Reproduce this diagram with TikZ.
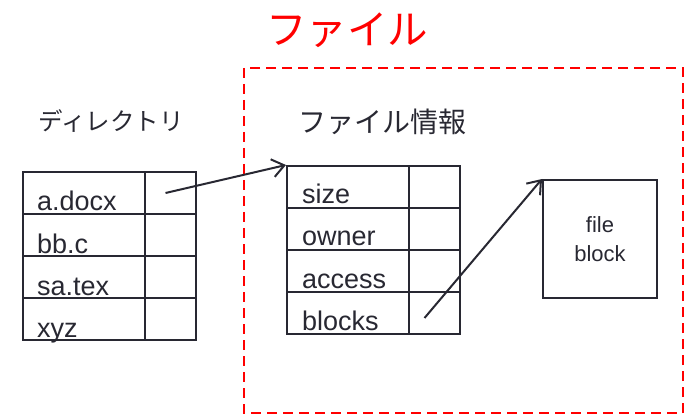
\documentclass[tikz,border=0pt]{standalone}
\usepackage{fontspec}
\setmainfont{Liberation Sans}
\newfontfamily\jpfont{Noto Sans CJK JP}
\usetikzlibrary{arrows.meta}

\definecolor{linegray}{RGB}{40,40,50}

\tikzset{
  cell/.style={draw=linegray, line width=2pt, minimum width=122pt, minimum height=42pt, inner sep=0pt, anchor=north west},
  ptr/.style={cell, minimum width=51pt},
  celltext/.style={font=\fontsize{27}{27}\selectfont, text=linegray, anchor=base west, inner sep=0pt},
  heading/.style={font=\jpfont\fontsize{#1}{#1}\selectfont, text=linegray, inner sep=0pt},
  title/.style={font=\jpfont\fontsize{40.5}{40.5}\selectfont, text=red, inner sep=0pt},
  frame/.style={draw=red, line width=2.5pt, dash pattern=on 10pt off 6pt},
  blockbox/.style={draw=linegray, line width=2pt, minimum width=114pt, minimum height=118pt, inner sep=0pt, anchor=north west, align=center, text=linegray, font=\fontsize{22}{29}\selectfont},
  link/.style={draw=linegray, line width=2pt, -{Straight Barb[length=12pt, width=18pt, line width=2pt]}}
}

\begin{document}
\begin{tikzpicture}[x=1pt,y=-1pt]
\useasboundingbox (0,0) rectangle (688,414);

\node[title] (ttl) at (347,30) {ファイル};
\draw[frame] (244,68) rectangle (683,413);

\node[heading=24.5] (dirlabel) at (111,121) {ディレクトリ};
\node[heading=28] (infolabel) at (382,122) {ファイル情報};

\begin{scope}[shift={(22,171)}]
\foreach \t [count=\i] in {a.docx,bb.c,sa.tex,xyz}{
\node[cell] (d\i) at (0,{42*(\i-1)}) {};
\node[ptr] (dp\i) at (122,{42*(\i-1)}) {};
\node[celltext] (dt\i) at ([xshift=15pt,yshift=4pt]d\i.south west) {\t};
}
\end{scope}

\begin{scope}[shift={(286,165)}]
\foreach \t [count=\i] in {size,owner,access,blocks}{
\node[cell] (f\i) at (0,{42*(\i-1)}) {};
\node[ptr] (fp\i) at (122,{42*(\i-1)}) {};
\node[celltext] (ft\i) at ([xshift=16pt,yshift=5pt]f\i.south west) {\t};
}
\end{scope}

\node[blockbox] (blk) at (542,179) {file\\block};

\draw[link] ([xshift=-5pt]dp1.center) -- (f1.north west);
\draw[link] ([xshift=-10pt,yshift=-5pt]fp4.center) -- (blk.north west);

\end{tikzpicture}
\end{document}
